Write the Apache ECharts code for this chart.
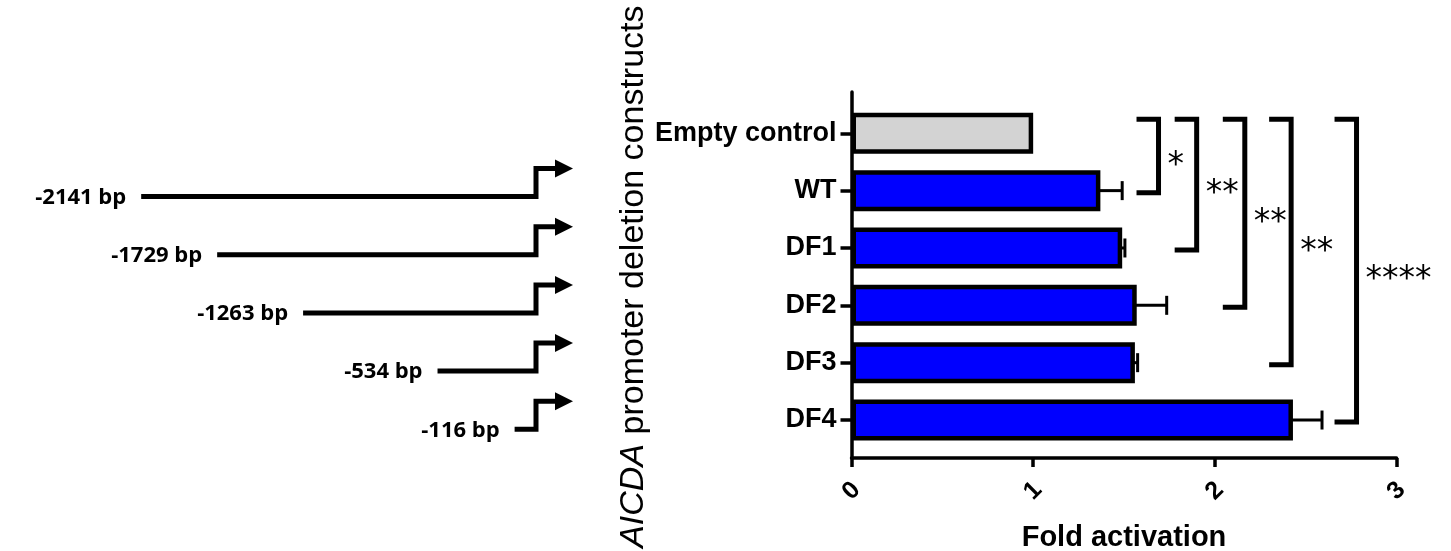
<!DOCTYPE html>
<html>
<head>
<meta charset="utf-8">
<script src="https://cdn.jsdelivr.net/npm/echarts@6/dist/echarts.min.js"></script>
<style>
html,body{margin:0;padding:0;background:#fff;}
#chart{width:1451px;height:551px;}
</style>
</head>
<body>
<div id="chart"></div>
<script>
// ---------------- data ----------------
const categories = ['Empty control', 'WT', 'DF1', 'DF2', 'DF3', 'DF4'];
const foldMean   = [1.00, 1.37, 1.49, 1.57, 1.56, 2.43];
const foldErr    = [0, 0.12, 0.015, 0.165, 0.015, 0.16];
const xTicks     = [0, 1, 2, 3];
const constructBp = [2141, 1729, 1263, 534, 116];   // promoter start (bp upstream)
const sigReference = 'Empty control';
const sigTargets = ['WT', 'DF1', 'DF2', 'DF3', 'DF4'];
const sigLabels  = ['*', '**', '**', '**', '****'];

// ---------------- layout (not data) ----------------
const bracketX = [1.69, 1.90, 2.165, 2.42, 2.78];   // bracket spine position in fold units
const BLUE = '#0000ff', GREY = '#d3d3d3', BLACK = '#000000';
const ARIAL = '"Liberation Sans", Arial, sans-serif';

const barData = foldMean.map((v, i) => ({
  value: v,
  itemStyle: { color: i === 0 ? GREY : BLUE }
}));

const errData = foldMean.map((v, i) => [v, i, foldErr[i]]).filter(d => d[2] > 0);

const bracketData = sigTargets.map((t, i) => [
  bracketX[i], categories.indexOf(sigReference), categories.indexOf(t), sigLabels[i]
]);

const constructData = constructBp.map((bp, i) => [-bp, i, '-' + bp + ' bp']);

const option = {
  animation: false,
  backgroundColor: '#ffffff',
  grid: [
    { left: 851.5, right: 54.5, top: 92, bottom: 93, containLabel: false, outerBoundsMode: 'none' },
    { left: 851.5, right: 54.5, top: 104.6, bottom: 102.3, containLabel: false, outerBoundsMode: 'none' },
    { left: 130.3, right: 915, top: 167.4, bottom: 92.6, containLabel: false, outerBoundsMode: 'none' }
  ],
  xAxis: [
    {
      gridIndex: 0, type: 'value', min: xTicks[0], max: xTicks[xTicks.length - 1], interval: 1,
      splitLine: { show: false },
      axisLine: { show: true, lineStyle: { color: BLACK, width: 3.5 } },
      axisTick: { show: true, length: 9, lineStyle: { color: BLACK, width: 3.5 } },
      axisLabel: {
        rotate: 45, align: 'center', verticalAlign: 'middle', margin: 33,
        fontSize: 25, fontWeight: 'bold', color: BLACK, fontFamily: ARIAL
      },
      name: 'Fold activation', nameLocation: 'middle', nameGap: 65, nameMoveOverlap: false,
      nameTextStyle: { fontSize: 29, fontWeight: 'bold', color: BLACK, fontFamily: ARIAL, verticalAlign: 'top' }
    },
    { gridIndex: 1, type: 'value', min: 0, max: 3, show: false },
    { gridIndex: 2, type: 'value', min: -2200, max: 0, show: false }
  ],
  yAxis: [
    {
      gridIndex: 0, type: 'value', min: 0, max: 1,
      axisLine: { show: true, lineStyle: { color: BLACK, width: 3.5 } },
      axisTick: { show: false }, axisLabel: { show: false }, splitLine: { show: false }
    },
    {
      gridIndex: 1, type: 'category', data: categories, inverse: true,
      axisLine: { show: false },
      axisTick: { show: true, alignWithLabel: true, length: 11, lineStyle: { color: BLACK, width: 3.5 } },
      axisLabel: { margin: 15, fontSize: 27, fontWeight: 'bold', color: BLACK, fontFamily: ARIAL },
      name: '{i|AICDA} promoter deletion constructs',
      nameLocation: 'middle', nameGap: 201, nameMoveOverlap: false,
      nameTextStyle: {
        fontSize: 34, color: BLACK, fontFamily: ARIAL,
        rich: { i: { fontSize: 34, fontStyle: 'italic', color: BLACK, fontFamily: ARIAL } }
      }
    },
    {
      gridIndex: 2, type: 'category', data: constructBp.map(String), inverse: true, show: false
    }
  ],
  series: [
    {
      type: 'bar', xAxisIndex: 1, yAxisIndex: 1, data: barData, barWidth: 41,
      itemStyle: { borderColor: BLACK, borderWidth: 4.5 }, z: 2
    },
    {
      type: 'custom', xAxisIndex: 1, yAxisIndex: 1, data: errData, z: 3, clip: false,
      renderItem: function (params, api) {
        const s = api.coord([api.value(0), api.value(1)]);
        const e = api.coord([api.value(0) + api.value(2), api.value(1)]);
        return {
          type: 'group', children: [
            { type: 'line', shape: { x1: s[0] - 2, y1: s[1], x2: e[0], y2: e[1] }, style: { stroke: BLACK, lineWidth: 3 } },
            { type: 'line', shape: { x1: e[0], y1: e[1] - 9.5, x2: e[0], y2: e[1] + 9.5 }, style: { stroke: BLACK, lineWidth: 3 } }
          ]
        };
      }
    },
    {
      type: 'custom', xAxisIndex: 1, yAxisIndex: 1, data: bracketData, z: 3, clip: false,
      renderItem: function (params, api) {
        const top = api.coord([api.value(0), api.value(1)]);
        const bot = api.coord([api.value(0), api.value(2)]);
        const vx = top[0], ty = top[1] - 14, by = bot[1] + 2;
        const label = bracketData[params.dataIndex][3];
        return {
          type: 'group', children: [
            { type: 'polyline', shape: { points: [[vx - 22, ty], [vx, ty], [vx, by], [vx - 22, by]] },
              style: { stroke: BLACK, lineWidth: 5, fill: null, lineJoin: 'miter' } },
            { type: 'text', x: vx + 9, y: (ty + by) / 2 + 10,
              style: { text: label, fill: BLACK, fontSize: 33, fontFamily: '"DejaVu Sans", sans-serif', align: 'left', verticalAlign: 'middle' } }
          ]
        };
      }
    },
    {
      type: 'custom', xAxisIndex: 2, yAxisIndex: 2, data: constructData, z: 3, clip: false,
      renderItem: function (params, api) {
        const s = api.coord([api.value(0), api.value(1)]);
        const e = api.coord([0, api.value(1)]);
        const y = s[1], ry = y - 28, ex = e[0];
        const label = constructData[params.dataIndex][2];
        return {
          type: 'group', children: [
            { type: 'polyline', shape: { points: [[s[0], y], [ex, y], [ex, ry], [ex + 21, ry]] },
              style: { stroke: BLACK, lineWidth: 5, fill: null, lineJoin: 'miter' } },
            { type: 'polygon', shape: { points: [[ex + 19, ry - 9], [ex + 37, ry], [ex + 19, ry + 9]] },
              style: { fill: BLACK } },
            { type: 'text', x: s[0] - 15, y: y + 1,
              style: { text: label, fill: BLACK, fontSize: 22, fontWeight: 'bold', fontFamily: '"Open Sans", sans-serif', align: 'right', verticalAlign: 'middle' } }
          ]
        };
      }
    }
  ]
};

const chart = echarts.init(document.getElementById('chart'), null, { renderer: 'canvas' });
chart.setOption(option);
</script>
</body>
</html>
